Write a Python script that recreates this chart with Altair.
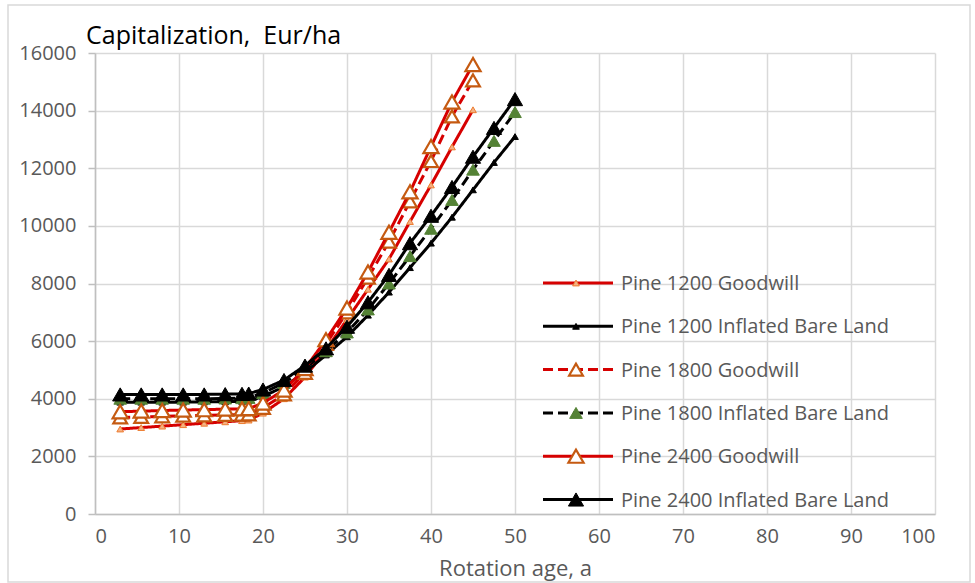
import altair as alt
import pandas as pd

# Rotation ages (years) at which capitalization was evaluated
ages_ibl = [3, 5.5, 8, 10.5, 13, 15.5, 17.5, 18.3, 20, 22.5, 25, 27.5, 30,
            32.5, 35, 37.5, 40, 42.5, 45, 47.5, 50]
ages_gw = ages_ibl[:19]

# Capitalization, Eur/ha
gw_1200 = [2950, 3000, 3050, 3100, 3150, 3200, 3240, 3260, 3500, 4000, 4750,
           5700, 6750, 7800, 8850, 10150, 11420, 12740, 14030]
ibl_1200 = [3880, 3880, 3880, 3880, 3890, 3900, 3910, 3920, 4080, 4420, 4920,
            5520, 6150, 6900, 7700, 8550, 9400, 10300, 11250, 12200, 13100]
gw_1800 = [3350, 3370, 3390, 3410, 3420, 3440, 3450, 3460, 3680, 4150, 4900,
           5900, 7000, 8200, 9450, 10850, 12250, 13800, 15050]
ibl_1800 = [4000, 4000, 4000, 4000, 4000, 4010, 4020, 4030, 4200, 4550, 5050,
            5650, 6300, 7100, 8000, 8950, 9900, 10900, 11950, 12950, 13950]
gw_2400 = [3550, 3570, 3590, 3610, 3620, 3640, 3650, 3660, 3850, 4300, 5050,
           6050, 7150, 8400, 9780, 11180, 12750, 14300, 15600]
ibl_2400 = [4150, 4150, 4150, 4150, 4150, 4160, 4170, 4180, 4320, 4650, 5150,
            5750, 6500, 7350, 8300, 9400, 10350, 11350, 12400, 13400, 14400]

series_names = ["Pine 1200 Goodwill", "Pine 1200 Inflated Bare Land",
                "Pine 1800 Goodwill", "Pine 1800 Inflated Bare Land",
                "Pine 2400 Goodwill", "Pine 2400 Inflated Bare Land"]
series_x = [ages_gw, ages_ibl, ages_gw, ages_ibl, ages_gw, ages_ibl]
series_y = [gw_1200, ibl_1200, gw_1800, ibl_1800, gw_2400, ibl_2400]

RED = "#D60000"
BROWN = "#C55A11"
SOLID = [1, 0]
DASH = [10, 5]
styles = [
    dict(line=RED, dash=SOLID, size=45, fill="#F4B183", stroke="#ED7D31", sw=1),
    dict(line="#000000", dash=SOLID, size=45, fill="#000000", stroke="#000000", sw=1),
    dict(line=RED, dash=DASH, size=190, fill="#FFFFFF", stroke=BROWN, sw=2.2),
    dict(line="#000000", dash=DASH, size=160, fill="#548235", stroke="#548235", sw=1),
    dict(line=RED, dash=SOLID, size=230, fill="#FFFFFF", stroke=BROWN, sw=2.2),
    dict(line="#000000", dash=SOLID, size=230, fill="#000000", stroke="#000000", sw=1),
]

GRAY_TEXT = "#595959"
FONT = "Open Sans"

x_enc = alt.X("age:Q", title="Rotation age, a",
              scale=alt.Scale(domain=[0, 100], nice=False),
              axis=alt.Axis(values=list(range(0, 101, 10))))
y_enc = alt.Y("cap:Q", title=None,
              scale=alt.Scale(domain=[0, 16000], nice=False),
              axis=alt.Axis(values=list(range(0, 16001, 2000)), format="d"))

layers = []
for name, xs, ys, st in zip(series_names, series_x, series_y, styles):
    df = pd.DataFrame({"age": xs, "cap": ys, "series": name})
    base = alt.Chart(df).encode(x=x_enc, y=y_enc)
    layers.append(base.mark_line(color=st["line"], strokeWidth=3,
                                 strokeDash=st["dash"]))
    layers.append(base.mark_point(shape="triangle-up", size=st["size"],
                                  filled=True, fill=st["fill"],
                                  stroke=st["stroke"], strokeWidth=st["sw"],
                                  opacity=1))

# Legend drawn inside the plot area
legend_layers = []
for i, (name, st) in enumerate(zip(series_names, styles)):
    ly = 230 + i * 43.3
    row = alt.Chart(pd.DataFrame({"label": [name]}))
    legend_layers.append(row.mark_rule(color=st["line"], strokeWidth=3,
                                       strokeDash=st["dash"]).encode(
        x=alt.value(448), x2=alt.value(518), y=alt.value(ly)))
    legend_layers.append(row.mark_point(shape="triangle-up", size=st["size"],
                                        filled=True, fill=st["fill"],
                                        stroke=st["stroke"], strokeWidth=st["sw"],
                                        opacity=1).encode(
        x=alt.value(481), y=alt.value(ly)))
    legend_layers.append(row.mark_text(align="left", baseline="middle",
                                       font=FONT, fontSize=20,
                                       color=GRAY_TEXT).encode(
        x=alt.value(526), y=alt.value(ly + 1), text="label:N"))

title_layer = alt.Chart(pd.DataFrame({"t": ["Capitalization,\u00a0 Eur/ha"]})).mark_text(
    align="left", baseline="alphabetic", font=FONT, fontSize=25, color="#000000"
).encode(x=alt.value(-9), y=alt.value(-9), text="t:N")

frame = alt.Chart(pd.DataFrame({"f": [0]})).mark_rect(
    fillOpacity=0, stroke="#D9D9D9", strokeWidth=1.5
).encode(x=alt.value(-87), x2=alt.value(875), y=alt.value(-48), y2=alt.value(529))

chart = alt.layer(frame, *layers, *legend_layers, title_layer).properties(
    width=840, height=461,
    autosize=alt.AutoSizeParams(type="none"),
    padding={"left": 95, "top": 53, "right": 40, "bottom": 69},
    background="#FFFFFF",
).configure_view(stroke=None).configure_axis(
    gridColor="#D9D9D9", gridWidth=1.5,
    domainColor="#BFBFBF", domainWidth=1.5,
    tickColor="#BFBFBF", tickWidth=1.5,
    labelFont=FONT, labelFontSize=20, labelColor=GRAY_TEXT,
    titleFont=FONT, titleFontSize=22, titleColor=GRAY_TEXT, titleFontWeight="normal",
).configure_axisX(
    ticks=False, labelPadding=12, titleY=61, titleBaseline="alphabetic",
).configure_axisY(
    tickSize=7, labelPadding=12,
)

chart.save("out.html", embed_options={"renderer": "svg", "actions": False})
